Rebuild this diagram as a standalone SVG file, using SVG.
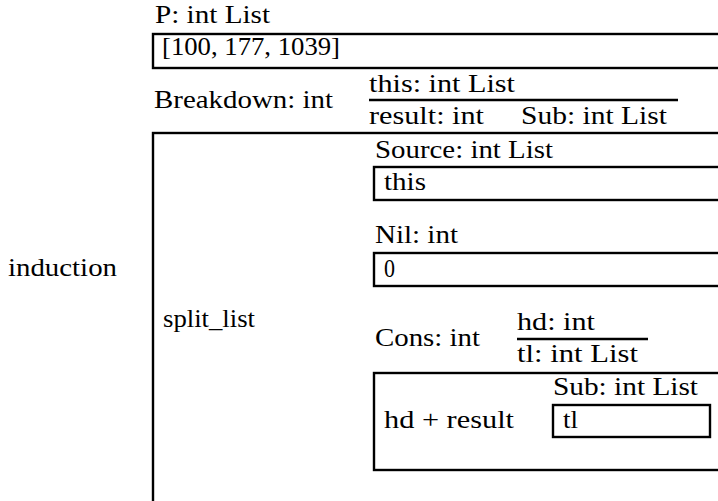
<svg xmlns="http://www.w3.org/2000/svg" width="718" height="501" viewBox="0 0 718 501">
  <style>
    text { font-family: "Liberation Serif", "Times New Roman", serif; font-size: 25px; fill: #000; }
    .box { fill: none; stroke: #000; stroke-width: 2.4; }
    .rule { stroke: #000; stroke-width: 2.4; }
  </style>
  <rect width="718" height="501" fill="#fff"/>

  <!-- parameter P -->
  <g id="param-p">
    <text x="155" y="23" textLength="115" lengthAdjust="spacingAndGlyphs">P: int List</text>
    <rect class="box" x="153" y="34" width="600" height="34"/>
    <text x="162" y="55" textLength="178" lengthAdjust="spacingAndGlyphs">[100, 177, 1039]</text>
  </g>

  <!-- breakdown signature -->
  <g id="breakdown">
    <text x="154" y="108" textLength="179" lengthAdjust="spacingAndGlyphs">Breakdown: int</text>
    <text x="369" y="92" textLength="146" lengthAdjust="spacingAndGlyphs">this: int List</text>
    <text x="369" y="124" textLength="115" lengthAdjust="spacingAndGlyphs">result: int</text>
    <text x="521" y="124" textLength="146" lengthAdjust="spacingAndGlyphs">Sub: int List</text>
  </g>

  <!-- induction label -->
  <g id="induction">
    <text x="8" y="276" textLength="109" lengthAdjust="spacingAndGlyphs">induction</text>
  </g>

  <!-- split_list body -->
  <g id="split-list">
    <rect class="box" x="153" y="133" width="600" height="400"/>
    <text x="163" y="327" textLength="92" lengthAdjust="spacingAndGlyphs">split_list</text>
  </g>

  <g id="source">
    <text x="375" y="158" textLength="178" lengthAdjust="spacingAndGlyphs">Source: int List</text>
    <rect class="box" x="374" y="167" width="400" height="33"/>
    <text x="384" y="190" textLength="42" lengthAdjust="spacingAndGlyphs">this</text>
  </g>

  <g id="nil">
    <text x="375" y="243" textLength="83" lengthAdjust="spacingAndGlyphs">Nil: int</text>
    <rect class="box" x="374" y="253" width="400" height="33"/>
    <text x="384" y="277" textLength="11" lengthAdjust="spacingAndGlyphs">0</text>
  </g>

  <g id="cons">
    <text x="375" y="346" textLength="105" lengthAdjust="spacingAndGlyphs">Cons: int</text>
    <text x="517" y="330" textLength="78" lengthAdjust="spacingAndGlyphs">hd: int</text>
    <text x="517" y="362" textLength="121" lengthAdjust="spacingAndGlyphs">tl: int List</text>
    <rect class="box" x="374" y="373" width="400" height="97"/>
    <text x="384" y="428" textLength="130" lengthAdjust="spacingAndGlyphs">hd + result</text>
  </g>

  <g id="sub">
    <text x="553" y="395" textLength="145" lengthAdjust="spacingAndGlyphs">Sub: int List</text>
    <rect class="box" x="553" y="405" width="157" height="32"/>
    <text x="563" y="428" textLength="15" lengthAdjust="spacingAndGlyphs">tl</text>
  </g>

  <!-- binder rules -->
  <g id="connectors">
    <line class="rule" x1="369" y1="100" x2="678" y2="100"/>
    <line class="rule" x1="517" y1="339" x2="648" y2="339"/>
  </g>
</svg>
